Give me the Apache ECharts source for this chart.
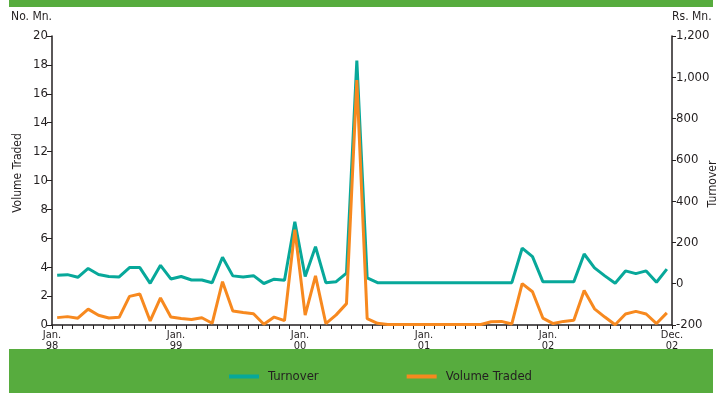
<!DOCTYPE html>
<html>
<head>
<meta charset="utf-8">
<script src="https://cdn.jsdelivr.net/npm/echarts@6/dist/echarts.min.js"></script>
<style>
html,body{margin:0;padding:0;background:#fff;}
#c{width:721px;height:393px;}
</style>
</head>
<body>
<div id="c"></div>
<script>
// ---- data ----
var years = ['98','99','00','01','02'];
var monthNames = ['Jan','Feb','Mar','Apr','May','Jun','Jul','Aug','Sep','Oct','Nov','Dec'];
var months = [];
years.forEach(function(y){ monthNames.forEach(function(m){ months.push(m + ' ' + y); }); });

var xTickLabels = ['Jan.\n98','Jan.\n99','Jan.\n00','Jan.\n01','Jan.\n02','Dec.\n02'];

// Turnover (Rs. Mn.) - right axis
var turnover = [
  41, 44, 31, 74, 45, 35, 33, 78, 78, 2, 89, 23,
  35, 18, 18, 5, 128, 38, 33, 39, 1, 22, 17, 300,
  35, 179, 5, 10, 51, 1081, 28, 5, 5, 5, 5, 5,
  5, 5, 5, 5, 5, 5, 5, 5, 5, 172, 131, 10,
  10, 10, 10, 144, 77, 38, 2, 62, 49, 62, 7, 71
];

// Volume Traded (No. Mn.) - left axis
var volume = [
  0.51, 0.58, 0.47, 1.1, 0.67, 0.48, 0.53, 1.98, 2.15, 0.28, 1.87, 0.55,
  0.45, 0.38, 0.5, 0.12, 3.0, 0.97, 0.87, 0.78, 0.05, 0.55, 0.3, 6.6,
  0.69, 3.4, 0.1, 0.7, 1.48, 16.95, 0.44, 0.12, 0.04, 0.04, 0.04, 0.04,
  0.04, 0.04, 0.04, 0.04, 0.04, 0.04, 0.22, 0.25, 0.07, 2.86, 2.3, 0.48,
  0.1, 0.25, 0.33, 2.38, 1.12, 0.55, 0.02, 0.76, 0.94, 0.76, 0.1, 0.84
];

// ---- chart ----
var FONT = "'DejaVu Sans Condensed','Liberation Sans Narrow',sans-serif";
var TXT = '#231f20';
var GREEN = '#57ac3e';
var TEAL = '#07a89a';
var ORANGE = '#f7891f';

var chart = echarts.init(document.getElementById('c'), null, {renderer:'canvas'});
chart.setOption({
  animation: false,
  backgroundColor: '#ffffff',
  textStyle: {fontFamily: FONT, color: TXT},
  grid: {left: 52, right: 49, top: 36, bottom: 68},
  graphic: [
    {type:'rect', left: 9, top: 0, shape:{width: 704, height: 7}, style:{fill: GREEN}, silent:true, z:-1},
    {type:'rect', left: 9, top: 349, shape:{width: 704, height: 44}, style:{fill: GREEN}, silent:true, z:-1},
    {type:'text', x: 18, y: 173, rotation: Math.PI/2, style:{text:'Volume Traded', fill: TXT, font: '12px ' + FONT, textAlign:'center', textVerticalAlign:'middle'}},
    {type:'text', x: 713, y: 184, rotation: Math.PI/2, style:{text:'Turnover', fill: TXT, font: '12px ' + FONT, textAlign:'center', textVerticalAlign:'middle'}}
  ],
  legend: {
    data: ['Turnover','Volume Traded'],
    left: 224, top: 365,
    icon: 'rect', itemWidth: 30, itemHeight: 4, itemGap: 88,
    textStyle: {fontFamily: FONT, fontSize: 13, color: TXT, padding: [0,0,0,4]}
  },
  xAxis: [
    {
      type: 'category', data: months, boundaryGap: true, show: false
    },
    {
      type: 'value', min: 0, max: 60, interval: 1, position: 'bottom',
      axisLine: {show: true, onZero: false, lineStyle: {color: TXT, width: 1.5}},
      axisTick: {show: true, inside: false, length: 4, lineStyle: {color: TXT, width: 1}},
      splitLine: {show: false},
      axisLabel: {
        show: true, margin: 5, fontFamily: FONT, fontSize: 11, lineHeight: 11, color: TXT,
        formatter: function(v){ return (v % 12 === 0) ? xTickLabels[v/12] : ''; }
      }
    }
  ],
  yAxis: [
    {
      type: 'value', min: 0, max: 20, interval: 2, position: 'left',
      name: 'No. Mn.', nameLocation: 'end', nameGap: 13,
      nameTextStyle: {fontFamily: FONT, fontSize: 12, color: TXT, align: 'right'},
      axisLine: {show: true, lineStyle: {color: TXT, width: 1.5}},
      axisTick: {show: true, length: 5, lineStyle: {color: TXT, width: 1}},
      splitLine: {show: false},
      axisLabel: {margin: 4, fontFamily: FONT, fontSize: 13, color: TXT}
    },
    {
      type: 'value', min: -200, max: 1200, interval: 200, position: 'right',
      name: 'Rs. Mn.', nameLocation: 'end', nameGap: 13,
      nameTextStyle: {fontFamily: FONT, fontSize: 12, color: TXT, align: 'left'},
      axisLine: {show: true, lineStyle: {color: TXT, width: 1.5}},
      axisTick: {show: true, length: 4, lineStyle: {color: TXT, width: 1}},
      splitLine: {show: false},
      axisLabel: {margin: 4, fontFamily: FONT, fontSize: 13, color: TXT}
    }
  ],
  series: [
    {
      name: 'Turnover', type: 'line', xAxisIndex: 0, yAxisIndex: 1,
      data: turnover, showSymbol: false, symbol: 'none',
      lineStyle: {color: TEAL, width: 3}, itemStyle: {color: TEAL}, z: 2
    },
    {
      name: 'Volume Traded', type: 'line', xAxisIndex: 0, yAxisIndex: 0,
      data: volume, showSymbol: false, symbol: 'none',
      lineStyle: {color: ORANGE, width: 3}, itemStyle: {color: ORANGE}, z: 3
    }
  ]
});
</script>
</body>
</html>
